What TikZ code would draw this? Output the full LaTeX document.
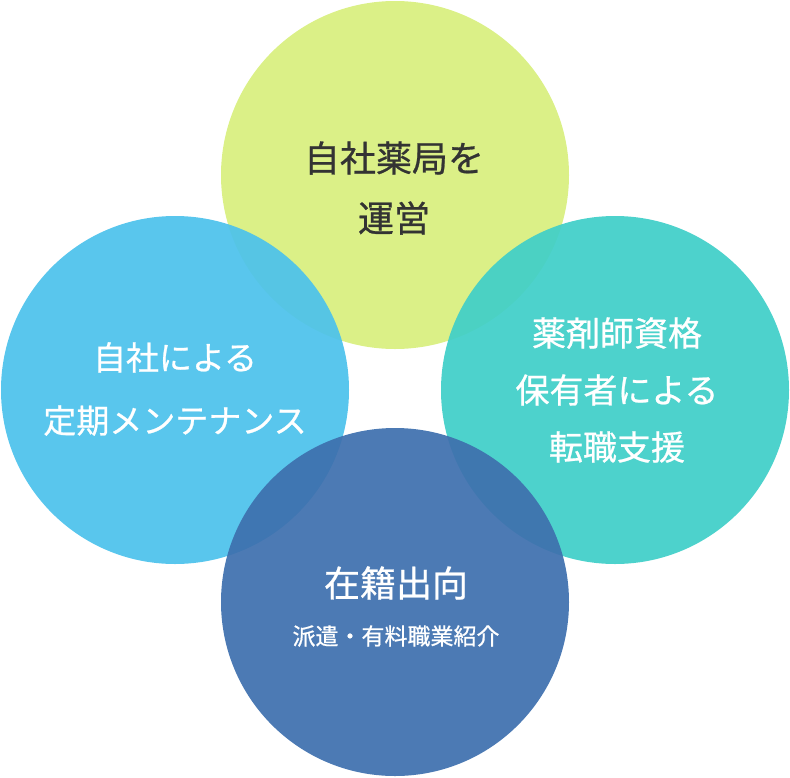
\documentclass[tikz,border=0pt]{standalone}
\usepackage{fontspec}
\setmainfont{Noto Sans CJK JP}[FakeBold=0.7]
\definecolor{cTop}{HTML}{D8EF7E}
\definecolor{cLeft}{HTML}{4CC2EC}
\definecolor{cRight}{HTML}{40CFC8}
\definecolor{cBot}{HTML}{3E70AE}
\definecolor{txt}{HTML}{333333}
\begin{document}
\begin{tikzpicture}[x=1pt,y=-1pt,
  circ/.style={circle,minimum size=348pt,inner sep=0pt,fill opacity=0.93,text opacity=1},
  lbl/.style={align=center}]
\useasboundingbox (0,0) rectangle (790,777);
\node[circ,fill=cTop] (top) at (395,175) {};
\node[circ,fill=cLeft] (left) at (175,390) {};
\node[circ,fill=cRight] (right) at (615,390) {};
\node[circ,fill=cBot] (bot) at (395,602) {};
\node[lbl,text=txt,font=\fontsize{36}{60}\selectfont] (ttop) at (394,188) {自社薬局を\\運営};
\node[lbl,text=white,font=\fontsize{33}{63}\selectfont] (tleft) at (175,389) {自社による\\定期メンテナンス};
\node[lbl,text=white,font=\fontsize{34}{57}\selectfont] (tright) at (617,390) {薬剤師資格\\保有者による\\転職支援};
\node[lbl,text=white,font=\fontsize{36}{40}\selectfont] (tbot) at (396,583) {在籍出向};
\node[text=white,font=\fontsize{23}{26}\selectfont] (tbot2) at (396,636) {派遣・有料職業紹介};
\end{tikzpicture}
\end{document}
